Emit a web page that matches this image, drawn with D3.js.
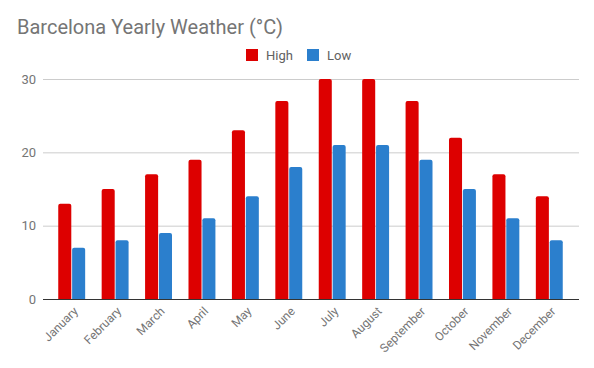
<!DOCTYPE html>
<html><head><meta charset="utf-8">
<script src="https://cdn.jsdelivr.net/npm/d3@7"></script>
<style>body{margin:0;background:#fff;}text{font-family:Roboto,Arial,sans-serif;}</style>
</head><body>
<svg id="c" width="594" height="368"></svg>
<script>
const months = ["January","February","March","April","May","June","July","August","September","October","November","December"];
const high = [13,15,17,19,23,27,30,30,27,22,17,14];
const low = [7,8,9,11,14,18,21,21,19,15,11,8];
const seriesNames = ["High","Low"];
const colors = ["#dd0000","#2b7fcd"];
const yTicks = [0,10,20,30];

const svg = d3.select("#c");
const x = d3.scaleBand().domain(months).range([50,571]).paddingInner(0.38).paddingOuter(0.19);
const xs = d3.scaleBand().domain(seriesNames).range([0,x.bandwidth()]).paddingInner(0.06);
const y = d3.scaleLinear().domain([0,30]).range([299,79]);

svg.append("text").attr("x",17).attr("y",34).attr("font-size",20).attr("fill","#757575").text("Barcelona Yearly Weather (°C)");

// gridlines
svg.append("g").selectAll("line").data(yTicks.filter(d=>d>0)).join("line")
  .attr("x1",43).attr("x2",579).attr("y1",d=>y(d)+0.5).attr("y2",d=>y(d)+0.5)
  .attr("stroke","#cccccc").attr("stroke-width",1);
svg.append("g").selectAll("text").data(yTicks).join("text")
  .attr("x",36).attr("y",d=>y(d)+4.5).attr("text-anchor","end").attr("font-size",13).attr("fill","#757575").text(d=>d);

// legend
const leg = [{n:"High",x:246},{n:"Low",x:307}];
leg.forEach((l,i)=>{
  svg.append("rect").attr("x",l.x).attr("y",49).attr("width",12).attr("height",12).attr("fill",colors[i]);
  svg.append("text").attr("x",l.x+20).attr("y",59.5).attr("font-size",13).attr("fill","#616161").text(l.n);
});

function barPath(x0,w,yTop,yBot,r){
  return `M${x0},${yBot}V${yTop+r}Q${x0},${yTop} ${x0+r},${yTop}H${x0+w-r}Q${x0+w},${yTop} ${x0+w},${yTop+r}V${yBot}Z`;
}
const data = months.map((m,i)=>({m, vals:[high[i],low[i]]}));
const g = svg.append("g");
data.forEach(d=>{
  d.vals.forEach((v,j)=>{
    const x0 = x(d.m)+xs(seriesNames[j]);
    g.append("path").attr("d",barPath(x0,xs.bandwidth(),y(v),y(0),2)).attr("fill",colors[j]);
  });
});

// baseline
svg.append("line").attr("x1",43).attr("x2",579).attr("y1",y(0)+0.5).attr("y2",y(0)+0.5).attr("stroke","#333").attr("stroke-width",1);

// x labels
svg.append("g").selectAll("text").data(months).join("text")
  .attr("text-anchor","end").attr("font-size",12).attr("fill","#757575")
  .attr("transform",d=>`translate(${x(d)+x.bandwidth()/2+7},${312}) rotate(-45)`)
  .text(d=>d);
</script>
</body></html>
